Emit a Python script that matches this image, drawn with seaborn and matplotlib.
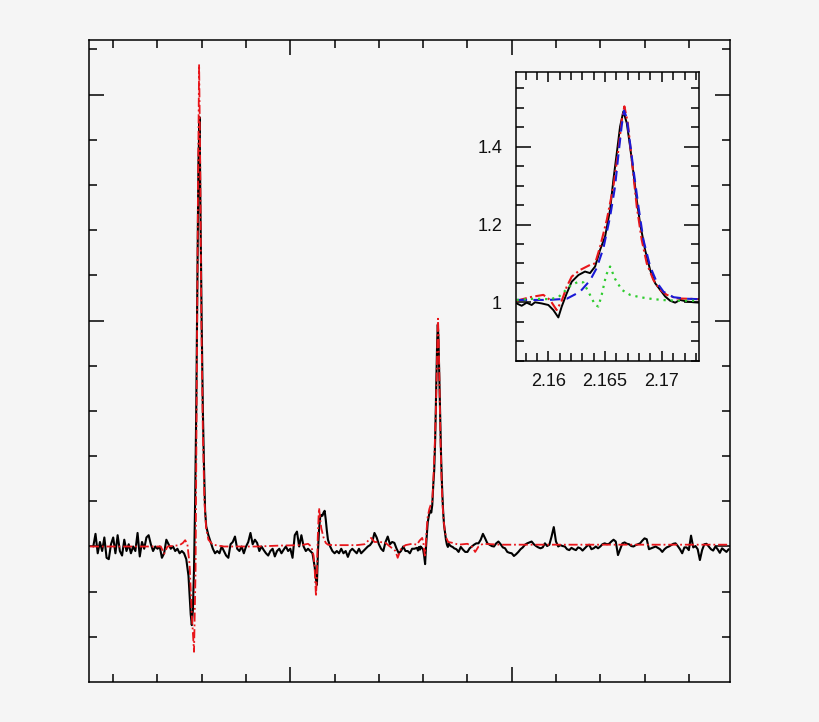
import numpy as np
import pandas as pd
import matplotlib
matplotlib.use("Agg")
import matplotlib.pyplot as plt
from matplotlib.ticker import MultipleLocator, FuncFormatter
import seaborn as sns

# ---------------- data (wavelength in micron, normalised flux) ----------------
# observed spectrum, uniformly sampled pieces (step 0.001 micron)
segA_start, segA_flux = 2.011, [
    1.0, 1.028, 0.985, 1.01, 0.99, 1.02, 0.975, 0.972, 1.005, 1.02,
    0.985, 1.025, 0.99, 0.98, 1.015, 0.99, 1.005, 0.985, 1.0, 0.99,
    1.03, 0.978, 1.01, 0.995, 1.02, 1.025, 1.005, 0.99, 1.0, 0.995,
    1.0, 0.975, 0.985, 1.015, 1.005, 0.995, 1.0, 0.99, 0.995, 0.985]
hei1_wl = [2.051, 2.052, 2.053, 2.054, 2.055, 2.0555, 2.056, 2.0565, 2.057, 2.0575,
           2.058, 2.0585, 2.059, 2.0595, 2.060, 2.0605, 2.061, 2.0615, 2.062, 2.063,
           2.064, 2.065, 2.066]
hei1_flux = [0.99, 0.985, 0.972, 0.935, 0.85, 0.826, 0.86, 0.95, 1.10, 1.30,
             1.58, 1.85, 1.95, 1.70, 1.48, 1.30, 1.18, 1.08, 1.045, 1.025,
             1.01, 0.995, 0.985]
segB_start, segB_flux = 2.067, [
    0.99, 0.985, 1.0, 0.99, 0.98, 0.975, 1.005, 1.01, 1.022, 0.995,
    0.99, 1.0, 0.985, 1.0, 1.01, 1.03, 1.005, 1.015, 1.008, 0.99,
    1.0, 0.992, 0.985, 0.98, 0.99, 0.995, 0.978, 0.99, 0.995, 0.985,
    0.993, 1.0, 0.99, 0.995, 0.975, 1.025, 1.033, 1.0, 1.025, 1.0,
    0.99, 0.995, 0.99]
hei2_wl = [2.110, 2.1105, 2.111, 2.1115, 2.112, 2.1125, 2.113, 2.1135, 2.114, 2.1145,
           2.115, 2.1155, 2.116, 2.1165, 2.117, 2.118]
hei2_flux = [0.985, 0.97, 0.955, 0.93, 0.915, 0.99, 1.04, 1.065, 1.07, 1.068,
             1.075, 1.079, 1.06, 1.035, 1.015, 1.0]
segC_start, segC_flux = 2.119, [
    0.99, 0.985, 0.99, 0.985, 0.995, 0.985, 0.99, 0.977, 0.99, 0.995,
    0.99, 0.985, 0.995, 0.985, 0.99, 0.995, 1.0, 1.003, 1.01, 1.03,
    1.02, 1.005, 0.995, 0.99, 1.01, 1.022, 1.005, 1.01, 1.008, 0.995,
    0.985, 0.99, 1.0, 0.99, 0.99, 0.985, 0.995, 0.995]
# Br-gamma region (also shown in the inset)
brg_wl = [2.15721, 2.15765, 2.15809, 2.15853, 2.15882, 2.15941, 2.16000, 2.16044,
          2.16088, 2.16118, 2.16162, 2.16206, 2.16265, 2.16323, 2.16367, 2.16412,
          2.16456, 2.16500, 2.16544, 2.16573, 2.16603, 2.16632, 2.16661, 2.16691,
          2.16720, 2.16750, 2.16779, 2.16808, 2.16852, 2.16897, 2.16941, 2.16985,
          2.17029, 2.17073, 2.17117, 2.17161, 2.17220, 2.17279, 2.17332]
brg_flux = [0.997, 0.991, 0.999, 0.993, 1.0, 0.997, 0.993, 0.980, 0.961, 0.989,
            1.023, 1.053, 1.070, 1.079, 1.075, 1.092, 1.135, 1.169, 1.238, 1.315,
            1.384, 1.452, 1.491, 1.461, 1.401, 1.332, 1.263, 1.203, 1.135, 1.083,
            1.049, 1.032, 1.015, 1.004, 0.999, 1.006, 1.002, 1.0, 0.999]
segD_start, segD_flux = 2.174, [
    0.996, 0.994, 0.988, 0.999, 0.993, 0.988, 0.988, 0.996, 1.0, 1.004,
    1.007, 1.007, 1.015, 1.028, 1.018, 1.007, 1.004, 1.001, 1.0, 1.007,
    1.011, 1.005, 0.998, 0.996, 0.988, 0.986, 0.985, 0.979, 0.983, 0.988,
    0.994, 0.998, 1.004, 1.007, 1.009, 1.011, 1.005, 1.001, 0.998, 0.996,
    0.998, 1.007, 1.001, 1.004, 1.022, 1.043, 1.011, 1.0, 1.003, 1.001,
    1.0, 0.994, 0.992, 0.997, 0.994, 0.992, 0.998, 0.996, 0.991, 0.996,
    1.001, 1.004, 0.994, 0.996, 1.0, 0.996, 1.0, 1.005, 1.007, 1.005,
    1.006, 1.011, 1.015, 1.011, 0.981, 0.994, 1.007, 1.009, 1.006, 1.005,
    1.001, 1.0, 1.003, 1.005, 1.007, 1.013, 1.018, 1.016, 0.994, 0.996,
    0.998, 1.0, 0.997, 0.994, 0.988, 0.994, 0.998, 1.0, 1.003, 1.006,
    1.007, 1.001, 0.994, 0.985, 0.998, 0.998, 0.992, 1.024, 0.998, 1.001,
    0.994, 0.970, 0.992, 1.005, 1.006, 1.0, 0.994, 0.991, 1.0, 0.994,
    0.986, 0.996, 0.992, 0.988, 0.994]

# model fit (red dash-dot), main panel parts outside Br-gamma
model_wl_a = [2.0095, 2.020, 2.030, 2.0415, 2.043, 2.0445, 2.050, 2.0515, 2.0525, 2.0535,
              2.0545, 2.0555, 2.0565, 2.0572, 2.0578, 2.0583, 2.0588, 2.0593, 2.0598, 2.0605,
              2.0612, 2.062, 2.063, 2.065, 2.070, 2.085, 2.095, 2.105, 2.108, 2.1095,
              2.1105, 2.111, 2.1116, 2.112, 2.1124, 2.1128, 2.113, 2.1135, 2.114, 2.115,
              2.116, 2.117, 2.119, 2.130, 2.1335, 2.1365, 2.138, 2.1405, 2.143, 2.145,
              2.1475, 2.1485, 2.150, 2.152, 2.155]
model_flux_a = [1.0, 1.0, 1.0, 1.0, 0.984, 1.0, 1.003, 1.008, 1.014, 1.005,
                0.96, 0.85, 0.767, 0.95, 1.40, 1.80, 2.067, 1.85, 1.50, 1.25,
                1.10, 1.04, 1.015, 1.004, 1.0, 1.0, 1.002, 1.003, 1.006, 1.0,
                0.98, 0.95, 0.889, 0.94, 1.02, 1.07, 1.085, 1.06, 1.04, 1.02,
                1.008, 1.004, 1.003, 1.003, 1.005, 1.019, 1.01, 1.01, 1.008, 1.0,
                0.99, 0.975, 0.995, 1.003, 1.006]
model_wl_b = [2.176, 2.180, 2.182, 2.1835, 2.185, 2.187, 2.195, 2.220, 2.250, 2.2985]
model_flux_b = [1.004, 1.006, 1.0, 0.988, 1.0, 1.006, 1.004, 1.004, 1.004, 1.004]

# inset model components around Br-gamma
fit_wl = [2.15721, 2.15838, 2.15956, 2.16015, 2.16073, 2.16118, 2.16162, 2.16206, 2.16279, 2.16367,
          2.16412, 2.16456, 2.16515, 2.16573, 2.16617, 2.16647, 2.16670, 2.16700, 2.16735, 2.16779,
          2.16823, 2.16867, 2.16926, 2.16985, 2.17044, 2.17132, 2.17332]
fit_flux = [1.004, 1.013, 1.019, 1.006, 0.980, 1.004, 1.040, 1.066, 1.083, 1.096,
            1.100, 1.143, 1.212, 1.298, 1.392, 1.469, 1.504, 1.461, 1.366, 1.246,
            1.160, 1.100, 1.057, 1.032, 1.019, 1.010, 1.008]
brg_comp_wl = [2.15721, 2.16000, 2.16162, 2.16279, 2.16367, 2.16426, 2.16485, 2.16544, 2.16588, 2.16617,
               2.16647, 2.16667, 2.16691, 2.16720, 2.16750, 2.16794, 2.16838, 2.16897, 2.16956, 2.17015,
               2.17103, 2.17220, 2.17332]
brg_comp_flux = [1.006, 1.006, 1.009, 1.027, 1.056, 1.088, 1.139, 1.220, 1.298, 1.379,
                 1.456, 1.493, 1.474, 1.409, 1.341, 1.246, 1.160, 1.092, 1.051, 1.027,
                 1.013, 1.009, 1.008]
hei_comp_wl = [2.15721, 2.15868, 2.16015, 2.16088, 2.16132, 2.16191, 2.16265, 2.16309, 2.16367, 2.16412,
               2.16441, 2.16470, 2.16509, 2.16544, 2.16588, 2.16647, 2.16720, 2.16808, 2.16926, 2.17044,
               2.17161, 2.17332]
hei_comp_flux = [1.006, 1.009, 1.008, 1.013, 1.025, 1.042, 1.053, 1.051, 1.019, 0.993,
                 0.989, 1.019, 1.070, 1.092, 1.060, 1.032, 1.019, 1.013, 1.008, 1.005,
                 1.004, 1.004]

# ---------------- assemble ----------------
def grid(start, values):
    return list(np.round(start + 0.001 * np.arange(len(values)), 4))

obs_wl = (grid(segA_start, segA_flux) + hei1_wl + grid(segB_start, segB_flux) + hei2_wl
          + grid(segC_start, segC_flux) + brg_wl + grid(segD_start, segD_flux))
obs_flux = segA_flux + hei1_flux + segB_flux + hei2_flux + segC_flux + brg_flux + segD_flux
obs = pd.DataFrame({"wl": obs_wl, "flux": obs_flux})

model = pd.DataFrame({"wl": model_wl_a + fit_wl + model_wl_b,
                      "flux": model_flux_a + fit_flux + model_flux_b})

inset_obs = pd.DataFrame({"wl": brg_wl, "flux": brg_flux})
inset_fit = pd.DataFrame({"wl": fit_wl, "flux": fit_flux})
inset_brg = pd.DataFrame({"wl": brg_comp_wl, "flux": brg_comp_flux})
inset_hei = pd.DataFrame({"wl": hei_comp_wl, "flux": hei_comp_flux})

# ---------------- style ----------------
BG = "#f5f5f5"
sns.set_style("ticks")
plt.rcParams["font.family"] = ["Liberation Sans", "DejaVu Sans"]

RED = "#e8161b"
BLUE = "#1a1ad6"
GREEN = "#2ecc2e"
DASHDOT = (0, (5, 1.6, 1, 1.6))

fig = plt.figure(figsize=(8.2, 7.22), dpi=100, facecolor=BG)

# main panel
ax = fig.add_axes([89.3 / 820, 1 - 681.5 / 722, (730 - 89.3) / 820, (681.5 - 40.3) / 722])
ax.set_facecolor(BG)
sns.lineplot(data=obs, x="wl", y="flux", ax=ax, color="black", linewidth=1.5,
             estimator=None, sort=False, legend=False)
sns.lineplot(data=model, x="wl", y="flux", ax=ax, color=RED, linewidth=1.3,
             estimator=None, sort=False, legend=False, linestyle=DASHDOT)
ax.set_xlim(2.0092, 2.2986)
ax.set_ylim(0.7013, 2.120)
ax.xaxis.set_major_locator(MultipleLocator(0.1))
ax.xaxis.set_minor_locator(MultipleLocator(0.02))
ax.yaxis.set_major_locator(MultipleLocator(0.5))
ax.yaxis.set_minor_locator(MultipleLocator(0.1))
ax.tick_params(which="both", direction="in", top=True, right=True, bottom=True, left=True,
               labelbottom=False, labelleft=False, color="black", width=1.1)
ax.tick_params(which="major", length=11)
ax.tick_params(which="minor", length=5.5)
ax.set_xlabel("")
ax.set_ylabel("")
for s in ax.spines.values():
    s.set_color("black")
    s.set_linewidth(1.1)

# inset panel
ins = fig.add_axes([516 / 820, 1 - 360.7 / 722, (699.3 - 516) / 820, (360.7 - 72.3) / 722])
ins.set_facecolor(BG)
sns.lineplot(data=inset_obs, x="wl", y="flux", ax=ins, color="black", linewidth=1.4,
             estimator=None, sort=False, legend=False)
sns.lineplot(data=inset_fit, x="wl", y="flux", ax=ins, color=RED, linewidth=1.5,
             estimator=None, sort=False, legend=False, linestyle=DASHDOT)
sns.lineplot(data=inset_brg, x="wl", y="flux", ax=ins, color=BLUE, linewidth=1.5,
             estimator=None, sort=False, legend=False, linestyle=(0, (5, 3)))
sns.lineplot(data=inset_hei, x="wl", y="flux", ax=ins, color=GREEN, linewidth=1.6,
             estimator=None, sort=False, legend=False, linestyle=(0, (1, 2.2)))
ins.set_xlim(2.15715, 2.1733)
ins.set_ylim(0.8497, 1.5915)
ins.xaxis.set_major_locator(MultipleLocator(0.005))
ins.xaxis.set_minor_locator(MultipleLocator(0.001))
ins.yaxis.set_major_locator(MultipleLocator(0.2))
ins.yaxis.set_minor_locator(MultipleLocator(0.05))
fmt = FuncFormatter(lambda v, p: "%g" % round(v, 4))
ins.xaxis.set_major_formatter(fmt)
ins.yaxis.set_major_formatter(fmt)
ins.tick_params(which="both", direction="in", top=True, right=True, bottom=True, left=True,
                color="black", width=1.1, labelsize=13, labelcolor="#111111")
ins.tick_params(axis="x", which="major", length=7, pad=9)
ins.tick_params(axis="y", which="major", length=11, pad=10)
ins.tick_params(which="minor", length=6)
ins.set_xlabel("")
ins.set_ylabel("")
for s in ins.spines.values():
    s.set_color("black")
    s.set_linewidth(1.1)

fig.savefig("out.png", dpi=100, facecolor=BG)
